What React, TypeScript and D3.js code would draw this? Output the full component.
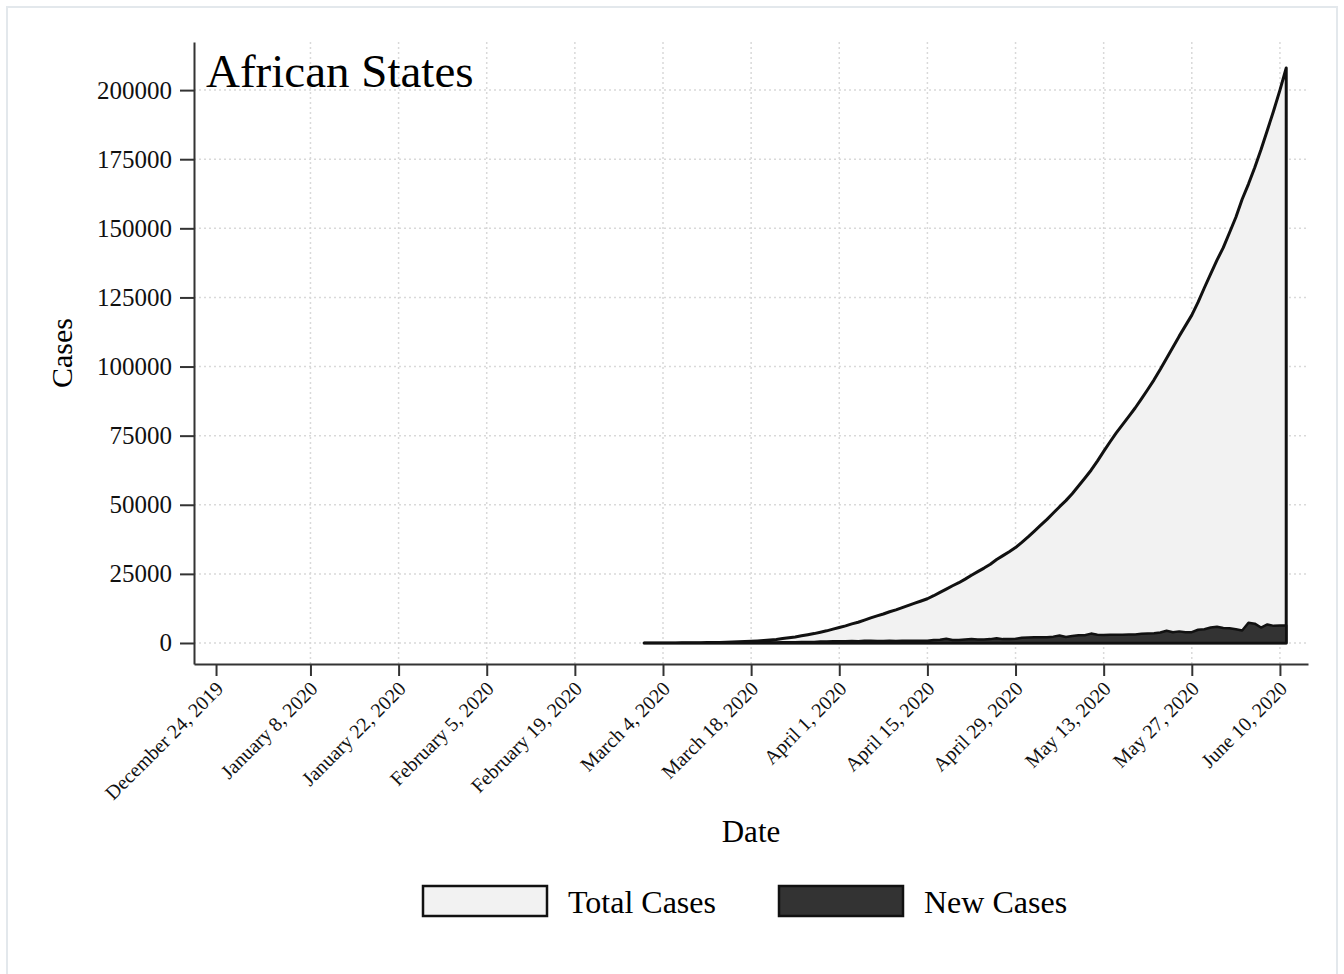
import React, { useEffect, useRef } from 'react';
import * as d3 from 'd3';

// daily series, first day = March 1, 2020
const startDate = new Date(2020, 2, 1);

const totalMar = [3, 5, 8, 12, 25, 35, 50, 65, 80, 110, 140, 170, 210, 260, 330, 420, 500, 600, 750, 900, 1100, 1300, 1600, 1900, 2200, 2600, 3000, 3400, 3900, 4400, 5000];
const totalApr = [5600, 6200, 6900, 7500, 8300, 9100, 9800, 10500, 11300, 12000, 12800, 13600, 14400, 15200, 16000, 17100, 18300, 19500, 20700, 21800, 23100, 24500, 25800, 27100, 28500, 30200, 31600, 33000, 34500, 36400];
const totalMay = [38400, 40500, 42600, 44700, 47000, 49300, 51500, 54000, 56800, 59600, 62500, 65800, 69300, 72700, 76000, 79000, 82000, 85000, 88300, 91700, 95200, 99000, 103000, 107000, 111000, 114800, 118600, 123300, 128500, 133500, 138500];
const totalJun = [143000, 148500, 154000, 160500, 166000, 172000, 178500, 185500, 192500, 200000, 208000];

const newMar = [1, 2, 3, 4, 13, 10, 15, 15, 15, 30, 30, 30, 40, 50, 70, 90, 80, 100, 150, 150, 200, 200, 300, 300, 300, 400, 400, 400, 500, 500, 600];
const newApr = [600, 600, 700, 600, 800, 800, 700, 700, 800, 700, 800, 800, 800, 800, 800, 1100, 1200, 1500, 1100, 1100, 1300, 1400, 1300, 1300, 1400, 1700, 1400, 1400, 1500, 1900];
const newMay = [2000, 2100, 2100, 2100, 2300, 2700, 2200, 2500, 2800, 2800, 3400, 3000, 2900, 3000, 3000, 3000, 3100, 3100, 3300, 3400, 3500, 3800, 4400, 3900, 4200, 3900, 3900, 4800, 5000, 5600, 5900];
const newJun = [5400, 5300, 5000, 4500, 7300, 7000, 5600, 6700, 6200, 6300, 6300];

const yTicks = [0, 25000, 50000, 75000, 100000, 125000, 150000, 175000, 200000];
const xTicks = [
  new Date(2019, 11, 24), new Date(2020, 0, 8), new Date(2020, 0, 22), new Date(2020, 1, 5),
  new Date(2020, 1, 19), new Date(2020, 2, 4), new Date(2020, 2, 18), new Date(2020, 3, 1),
  new Date(2020, 3, 15), new Date(2020, 3, 29), new Date(2020, 4, 13), new Date(2020, 4, 27),
  new Date(2020, 5, 10),
];

const FONT = '"Liberation Serif", "Times New Roman", serif';

const App = () => {
  const ref = useRef<SVGSVGElement>(null);

  useEffect(() => {
    const svg = d3.select(ref.current);
    svg.selectAll('*').remove();

    const totals = [...totalMar, ...totalApr, ...totalMay, ...totalJun];
    const news = [...newMar, ...newApr, ...newMay, ...newJun];
    const data = totals.map((t, i) => ({
      date: d3.timeDay.offset(startDate, i),
      total: t,
      fresh: news[i],
    }));

    const left = 194, right = 1308, top = 42, bottom = 664;

    const x = d3.scaleTime()
      .domain([new Date(2019, 11, 20, 12), new Date(2020, 5, 14, 11)])
      .range([left, right]);
    const y = d3.scaleLinear()
      .domain([-7600, 217400])
      .range([bottom, top]);

    // outer frame
    svg.append('rect')
      .attr('x', 7).attr('y', 7).attr('width', 1330).attr('height', 990)
      .attr('fill', 'white').attr('stroke', '#e3e8ec').attr('stroke-width', 2);

    // grid
    const grid = svg.append('g');
    grid.selectAll('line.h')
      .data(yTicks)
      .enter().append('line')
      .attr('x1', left).attr('x2', right)
      .attr('y1', d => y(d)).attr('y2', d => y(d))
      .attr('stroke', '#d9d9d9').attr('stroke-width', 1.5)
      .attr('stroke-dasharray', '2,3');
    grid.selectAll('line.v')
      .data(xTicks.slice(1))
      .enter().append('line')
      .attr('x1', d => x(d)).attr('x2', d => x(d))
      .attr('y1', top).attr('y2', bottom)
      .attr('stroke', '#d9d9d9').attr('stroke-width', 1.5)
      .attr('stroke-dasharray', '2,3');

    // areas
    const totalArea = d3.area<any>()
      .x(d => x(d.date))
      .y0(y(0))
      .y1(d => y(d.total));
    const newArea = d3.area<any>()
      .x(d => x(d.date))
      .y0(y(0))
      .y1(d => y(d.fresh));

    svg.append('path')
      .datum(data)
      .attr('d', totalArea)
      .attr('fill', '#f2f2f2')
      .attr('stroke', '#111')
      .attr('stroke-width', 3)
      .attr('stroke-linejoin', 'round');

    svg.append('path')
      .datum(data)
      .attr('d', newArea)
      .attr('fill', '#333')
      .attr('stroke', '#111')
      .attr('stroke-width', 2.5)
      .attr('stroke-linejoin', 'round');

    // y axis
    const yAxis = svg.append('g')
      .attr('transform', `translate(${left},0)`)
      .call(d3.axisLeft(y).tickValues(yTicks).tickSize(14).tickSizeOuter(0).tickPadding(8).tickFormat(d3.format('d')));
    yAxis.select('.domain').attr('stroke', '#333').attr('stroke-width', 2);
    yAxis.selectAll('.tick line').attr('stroke', '#333').attr('stroke-width', 2);
    yAxis.selectAll('.tick text')
      .attr('font-family', FONT).attr('font-size', 25).attr('fill', '#111');

    // x axis
    const xAxis = svg.append('g')
      .attr('transform', `translate(0,${bottom})`)
      .call(d3.axisBottom(x).tickValues(xTicks).tickSize(12).tickSizeOuter(0).tickFormat(d3.timeFormat('%B %-d, %Y') as any));
    xAxis.select('.domain').attr('stroke', '#333').attr('stroke-width', 2);
    xAxis.selectAll('.tick line').attr('stroke', '#333').attr('stroke-width', 2);
    xAxis.selectAll('.tick text')
      .attr('font-family', FONT).attr('font-size', 20).attr('fill', '#111')
      .attr('text-anchor', 'end')
      .attr('x', 0).attr('y', 0).attr('dy', '0.35em')
      .attr('transform', 'translate(3,21) rotate(-45)');

    // titles
    svg.append('text')
      .attr('x', 206).attr('y', 87)
      .attr('font-family', FONT).attr('font-size', 47).attr('fill', '#000')
      .text('African States');

    svg.append('text')
      .attr('transform', 'translate(72,353) rotate(-90)')
      .attr('text-anchor', 'middle')
      .attr('font-family', FONT).attr('font-size', 30).attr('fill', '#000')
      .text('Cases');

    svg.append('text')
      .attr('x', 751).attr('y', 842)
      .attr('text-anchor', 'middle')
      .attr('font-family', FONT).attr('font-size', 31).attr('fill', '#000')
      .text('Date');

    // legend
    const legend = [
      { label: 'Total Cases', fill: '#f2f2f2', x: 423 },
      { label: 'New Cases', fill: '#333', x: 779 },
    ];
    const lg = svg.append('g');
    lg.selectAll('rect')
      .data(legend)
      .enter().append('rect')
      .attr('x', d => d.x).attr('y', 886)
      .attr('width', 124).attr('height', 30)
      .attr('fill', d => d.fill)
      .attr('stroke', '#111').attr('stroke-width', 2.5);
    lg.selectAll('text')
      .data(legend)
      .enter().append('text')
      .attr('x', d => d.x + 145).attr('y', 913)
      .attr('font-family', FONT).attr('font-size', 32).attr('fill', '#000')
      .text(d => d.label);
  }, []);

  return (
    <svg
      ref={ref}
      width={1344}
      height={974}
      style={{ position: 'absolute', left: 0, top: 0, background: 'white' }}
    />
  );
};

export default App;
